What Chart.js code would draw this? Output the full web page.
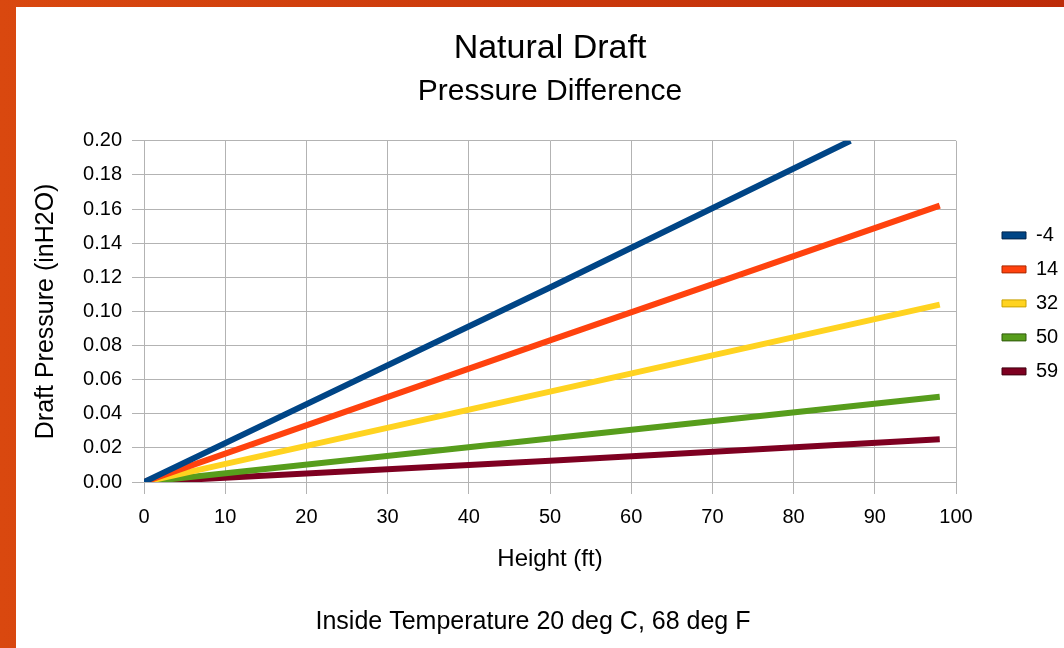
<!DOCTYPE html>
<html>
<head>
<meta charset="utf-8">
<title>Natural Draft</title>
<script src="https://cdn.jsdelivr.net/npm/chart.js@4.4.1/dist/chart.umd.min.js"></script>
<style>
  html, body { margin: 0; padding: 0; background: #fff; }
  #wrap { width: 1064px; height: 648px; }
</style>
</head>
<body>
<div id="wrap"><canvas id="chart" width="1064" height="648"></canvas></div>
<script>
// outside temperatures (deg F), one line each
const outsideTemps = ['-4', '14', '32', '50', '59'];
const lineColors = ['#004586', '#ff420e', '#ffd320', '#579d1c', '#7e0021'];
const edgeColors = ['#00234a', '#a82800', '#c9a100', '#2f5a0a', '#3f0010'];

// height (ft) vs draft pressure (inH2O)
const heightsCold = [0, 50, 87];
const heights = [0, 50, 98];
const draftM4 = [0, 0.114, 0.200];
const draft14 = [0, 0.083, 0.162];
const draft32 = [0, 0.053, 0.104];
const draft50 = [0, 0.0255, 0.050];
const draft59 = [0, 0.0125, 0.025];

const xTicks = [0, 10, 20, 30, 40, 50, 60, 70, 80, 90, 100];
const yTicks = [0, 0.02, 0.04, 0.06, 0.08, 0.10, 0.12, 0.14, 0.16, 0.18, 0.20];

const noteText = 'Inside Temperature 20 deg C, 68 deg F';

const seriesX = [heightsCold, heights, heights, heights, heights];
const seriesY = [draftM4, draft14, draft32, draft50, draft59];

function toPoints(xs, ys) {
  return xs.map((x, i) => ({ x: x, y: ys[i] }));
}

Chart.defaults.font.family = '"Liberation Sans", Arial, sans-serif';
Chart.defaults.color = '#000';

const gridGray = '#b3b3b3';

// orange slide frame behind the white chart
const frame = {
  id: 'frame',
  beforeDraw(chart) {
    const { ctx, width, height } = chart;
    const g = ctx.createLinearGradient(0, 0, width, 0);
    g.addColorStop(0, '#d9480f');
    g.addColorStop(1, '#bd2b08');
    ctx.save();
    ctx.fillStyle = g;
    ctx.fillRect(0, 0, width, height);
    ctx.fillStyle = '#fff';
    ctx.fillRect(16, 7, width - 16, height - 7);
    ctx.restore();
  }
};

// move the legend out to the right edge
const legendNudge = {
  id: 'legendNudge',
  afterLayout(chart) {
    const lg = chart.legend;
    lg.left += 32;
    lg.right += 32;
    lg.top -= 8;
    lg.bottom -= 8;
  }
};

const footNote = {
  id: 'footNote',
  afterDraw(chart) {
    const ctx = chart.ctx;
    ctx.save();
    ctx.font = '25px "Liberation Sans", Arial, sans-serif';
    ctx.fillStyle = '#000';
    ctx.textAlign = 'center';
    ctx.textBaseline = 'middle';
    ctx.fillText(noteText, 533, 622);
    ctx.restore();
  }
};

const datasets = outsideTemps.map((t, i) => ({
  label: t,
  data: toPoints(seriesX[i], seriesY[i]),
  borderColor: lineColors[i],
  backgroundColor: lineColors[i],
  borderWidth: 6,
  pointRadius: 0,
  tension: 0,
  fill: false
}));

new Chart(document.getElementById('chart'), {
  type: 'line',
  data: { datasets: datasets },
  plugins: [frame, legendNudge, footNote],
  options: {
    responsive: false,
    animation: false,
    devicePixelRatio: 1,
    layout: { padding: { left: 16, right: 30, top: 0, bottom: 74 } },
    plugins: {
      title: {
        display: true,
        text: 'Natural Draft',
        fullSize: false,
        font: { size: 34, weight: 'normal' },
        padding: { top: 28, bottom: 0 }
      },
      subtitle: {
        display: true,
        text: 'Pressure Difference',
        fullSize: false,
        color: '#000',
        font: { size: 30, weight: 'normal' },
        padding: { top: 5, bottom: 31 }
      },
      legend: {
        position: 'right',
        fullSize: false,
        maxWidth: 78,
        labels: {
          boxWidth: 24,
          boxHeight: 7,
          padding: 14,
          color: '#000',
          font: { size: 20 },
          generateLabels(chart) {
            return Chart.defaults.plugins.legend.labels.generateLabels(chart).map((item, i) => ({
              ...item,
              fillStyle: lineColors[i],
              strokeStyle: edgeColors[i],
              lineWidth: 1,
              lineCap: 'butt',
              lineDash: []
            }));
          }
        }
      },
      tooltip: { enabled: false }
    },
    scales: {
      x: {
        type: 'linear',
        min: 0,
        max: 100,
        afterBuildTicks(s) { s.ticks = xTicks.map(v => ({ value: v })); },
        afterFit(s) { s.height = 92; },
        grid: { color: gridGray, tickLength: 12 },
        border: { color: gridGray },
        ticks: { font: { size: 20 }, padding: 11, color: '#000' },
        title: {
          display: true,
          text: 'Height (ft)',
          color: '#000',
          font: { size: 24 },
          padding: { top: 0, bottom: 0 }
        }
      },
      y: {
        type: 'linear',
        min: 0,
        max: 0.2,
        afterBuildTicks(s) { s.ticks = yTicks.map(v => ({ value: v })); },
        afterFit(s) { s.width = 128; },
        grid: { color: gridGray, tickLength: 12 },
        border: { color: gridGray },
        ticks: {
          font: { size: 20 },
          padding: 10,
          color: '#000',
          callback: v => v.toFixed(2)
        },
        title: {
          display: true,
          text: 'Draft Pressure (inH2O)',
          color: '#000',
          font: { size: 25 },
          padding: { top: 15, bottom: 0 }
        }
      }
    }
  }
});
</script>
</body>
</html>
